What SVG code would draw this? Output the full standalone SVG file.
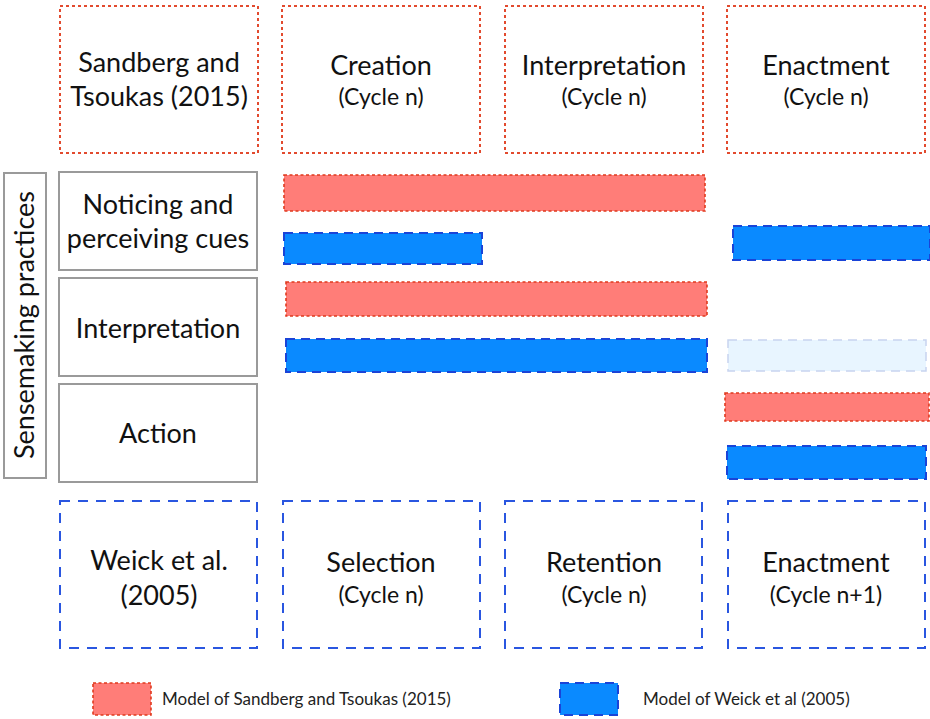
<svg xmlns="http://www.w3.org/2000/svg" width="930" height="719" viewBox="0 0 930 719">
  <style>
    .t { font-family: Lato, "Open Sans", sans-serif; fill: #111; text-anchor: middle; }
    .big { font-size: 27px; }
    .sub { font-size: 23px; }
    .leg { font-family: Lato, "Open Sans", sans-serif; font-size: 17px; fill: #222; }
    .hdr-red { fill: #fff; stroke: #e24a2e; stroke-width: 2; stroke-dasharray: 3 3; }
    .hdr-blue { fill: #fff; stroke: #2a56e0; stroke-width: 2; stroke-dasharray: 10 8; }
    .row { fill: #fff; stroke: #9a9a9a; stroke-width: 2; }
    .bar-red { fill: #ff7d78; stroke: #e03a1e; stroke-width: 1.6; stroke-dasharray: 3 2.5; }
    .bar-blue { fill: #0a8aff; stroke: #1a44d8; stroke-width: 2; stroke-dasharray: 9 6; }
    .bar-pale { fill: #e8f5ff; stroke: #c8d4f0; stroke-width: 1.5; stroke-dasharray: 9 6; }
  </style>

  <!-- Sandberg and Tsoukas (2015) phases -->
  <g id="hdr-st">
    <rect class="hdr-red" x="60" y="6" width="198" height="147"/>
    <text class="t big" x="159" y="72">Sandberg and</text>
    <text class="t big" x="159" y="106">Tsoukas (2015)</text>
  </g>
  <g id="hdr-creation">
    <rect class="hdr-red" x="282" y="6" width="198" height="147"/>
    <text class="t big" x="381" y="75">Creation</text>
    <text class="t sub" x="381" y="105">(Cycle n)</text>
  </g>
  <g id="hdr-interpretation">
    <rect class="hdr-red" x="505" y="6" width="198" height="147"/>
    <text class="t big" x="604" y="75">Interpretation</text>
    <text class="t sub" x="604" y="105">(Cycle n)</text>
  </g>
  <g id="hdr-enactment">
    <rect class="hdr-red" x="727" y="6" width="198" height="147"/>
    <text class="t big" x="826" y="75">Enactment</text>
    <text class="t sub" x="826" y="105">(Cycle n)</text>
  </g>

  <!-- Sensemaking practices -->
  <g id="practices">
    <rect class="row" x="4" y="173" width="42" height="305"/>
    <text class="t big" transform="translate(34 325) rotate(-90)">Sensemaking practices</text>
  </g>
  <g id="row-noticing">
    <rect class="row" x="59" y="172" width="198" height="98"/>
    <text class="t big" x="158" y="214">Noticing and</text>
    <text class="t big" x="158" y="248">perceiving cues</text>
  </g>
  <g id="row-interpretation">
    <rect class="row" x="59" y="278" width="198" height="98"/>
    <text class="t big" x="158" y="338">Interpretation</text>
  </g>
  <g id="row-action">
    <rect class="row" x="59" y="384" width="198" height="98"/>
    <text class="t big" x="158" y="443">Action</text>
  </g>

  <!-- Bars -->
  <g id="bars">
    <rect class="bar-red" x="284" y="175" width="421" height="36"/>
    <rect class="bar-blue" x="284" y="233" width="198" height="31"/>
    <rect class="bar-red" x="286" y="282" width="421" height="34"/>
    <rect class="bar-blue" x="286" y="339" width="421" height="33"/>
    <rect class="bar-blue" x="733" y="226" width="197" height="34"/>
    <rect class="bar-pale" x="728" y="340" width="198" height="31"/>
    <rect class="bar-red" x="725" y="393" width="204" height="28"/>
    <rect class="bar-blue" x="727" y="446" width="199" height="33"/>
  </g>

  <!-- Weick et al. (2005) phases -->
  <g id="ftr-weick">
    <rect class="hdr-blue" x="60" y="501" width="197" height="147"/>
    <text class="t big" x="159" y="570">Weick et al.</text>
    <text class="t big" x="159" y="605">(2005)</text>
  </g>
  <g id="ftr-selection">
    <rect class="hdr-blue" x="283" y="501" width="197" height="147"/>
    <text class="t big" x="381" y="572">Selection</text>
    <text class="t sub" x="381" y="603">(Cycle n)</text>
  </g>
  <g id="ftr-retention">
    <rect class="hdr-blue" x="505" y="501" width="197" height="147"/>
    <text class="t big" x="604" y="572">Retention</text>
    <text class="t sub" x="604" y="603">(Cycle n)</text>
  </g>
  <g id="ftr-enactment">
    <rect class="hdr-blue" x="728" y="501" width="197" height="147"/>
    <text class="t big" x="826" y="572">Enactment</text>
    <text class="t sub" x="826" y="603">(Cycle n+1)</text>
  </g>

  <!-- Legend -->
  <g id="legend">
    <rect class="bar-red" x="93" y="683" width="58" height="32"/>
    <text class="leg" x="162" y="705">Model of Sandberg and Tsoukas (2015)</text>
    <rect class="bar-blue" x="560" y="683" width="58" height="32"/>
    <text class="leg" x="643" y="705">Model of Weick et al (2005)</text>
  </g>
</svg>
